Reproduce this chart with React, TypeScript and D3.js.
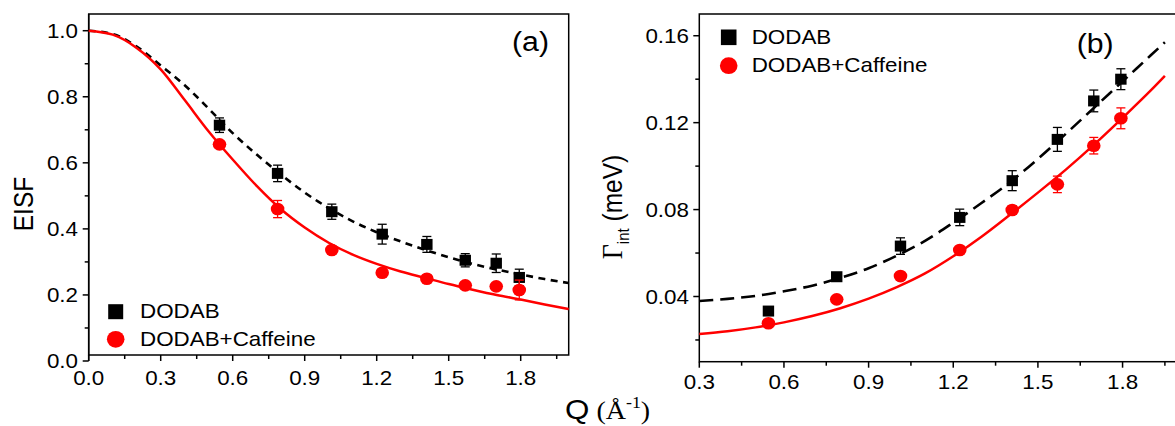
import React from 'react';
import * as d3 from 'd3';

// ---------- data ----------
const qPoints = [0.545, 0.787, 1.013, 1.223, 1.409, 1.569, 1.698, 1.794];

const eisfDodab = [0.714, 0.568, 0.452, 0.384, 0.353, 0.305, 0.296, 0.253];
const eisfDodabErr = [0.022, 0.025, 0.023, 0.03, 0.024, 0.02, 0.028, 0.025];
const eisfCaff = [0.656, 0.46, 0.336, 0.267, 0.249, 0.229, 0.226, 0.215];
const eisfCaffErr = [0.008, 0.026, 0.008, 0.008, 0.008, 0.008, 0.008, 0.03];

const gamDodab = [0.0333, 0.0491, 0.0632, 0.0764, 0.0933, 0.1123, 0.13, 0.14];
const gamDodabErr = [0.001, 0.001, 0.0038, 0.0038, 0.0046, 0.0055, 0.005, 0.0048];
const gamCaff = [0.0277, 0.0387, 0.0494, 0.0614, 0.0798, 0.0916, 0.1094, 0.122];
const gamCaffErr = [0.001, 0.001, 0.0015, 0.0015, 0.002, 0.0038, 0.0038, 0.0048];

// fit curves
const fitQLeft = [0, 0.1, 0.2, 0.3, 0.4, 0.5, 0.6, 0.7, 0.8, 0.9, 1.0, 1.1, 1.2, 1.3, 1.4, 1.5, 1.6, 1.7, 1.8, 1.9, 2.0];
const eisfFitDodab = [1.0, 0.99, 0.952, 0.895, 0.835, 0.764, 0.69, 0.625, 0.565, 0.51, 0.463, 0.423, 0.39, 0.362, 0.337, 0.314, 0.294, 0.277, 0.262, 0.248, 0.236];
const eisfFitCaff = [1.0, 0.988, 0.948, 0.883, 0.79, 0.695, 0.61, 0.53, 0.46, 0.404, 0.358, 0.322, 0.294, 0.271, 0.252, 0.233, 0.216, 0.2, 0.186, 0.171, 0.157];

const fitQRight = [0.3, 0.4, 0.5, 0.6, 0.7, 0.8, 0.9, 1.0, 1.1, 1.2, 1.3, 1.4, 1.5, 1.6, 1.7, 1.8, 1.9, 1.95];
const gamFitDodab = [0.0379, 0.0389, 0.0403, 0.0424, 0.045, 0.0486, 0.053, 0.0588, 0.0656, 0.074, 0.083, 0.0925, 0.1033, 0.115, 0.127, 0.139, 0.151, 0.157];
const gamFitCaff = [0.0227, 0.024, 0.0258, 0.0281, 0.031, 0.0346, 0.039, 0.0443, 0.0506, 0.0585, 0.0675, 0.0775, 0.0878, 0.0985, 0.11, 0.1222, 0.1348, 0.1415];

const xTicksLeft = [0, 0.3, 0.6, 0.9, 1.2, 1.5, 1.8];
const xMinorLeft = [0.15, 0.45, 0.75, 1.05, 1.35, 1.65, 1.95];
const yTicksLeft = [0, 0.2, 0.4, 0.6, 0.8, 1.0];
const yMinorLeft = [0.1, 0.3, 0.5, 0.7, 0.9];
const xTicksRight = [0.3, 0.6, 0.9, 1.2, 1.5, 1.8];
const xMinorRight = [0.45, 0.75, 1.05, 1.35, 1.65, 1.95];
const yTicksRight = [0.04, 0.08, 0.12, 0.16];
const yMinorRight = [0.02, 0.06, 0.1, 0.14];

const legendLabels = ['DODAB', 'DODAB+Caffeine'];

// ---------- layout ----------
const W = 1175;
const H = 426;
const SX = 1.12;
const SANS = "'Liberation Sans', Arial, sans-serif";
const SERIF = "'Liberation Serif', 'Times New Roman', serif";
const RED = '#ff0000';

const xL = d3.scaleLinear().domain([0, 2]).range([88.7, 568.7]);
const yL = d3.scaleLinear().domain([0, 1.05]).range([361, 14.2]);
const xR = d3.scaleLinear().domain([0.3, 2.0]).range([699.3, 1179]);
const yR = d3.scaleLinear().domain([0.01, 0.17]).range([361.7, 14]);

function Txt(props: any) {
  const { x, y, size = 20, anchor = 'start', family = SANS, rotate = false, children, dy } = props;
  return (
    <text
      transform={`translate(${x},${y}) scale(${SX},1)${rotate ? ' rotate(-90)' : ''}`}
      fontSize={size}
      fontFamily={family}
      textAnchor={anchor}
      dy={dy}
      fill="#000"
    >
      {children}
    </text>
  );
}

function Points(props: any) {
  const { xs, ys, errs, xs_, ys_, shape, color } = props;
  return (
    <g>
      {xs.map((q: number, i: number) => {
        const cx = xs_(q);
        const cy = ys_(ys[i]);
        const t = ys_(ys[i] + errs[i]);
        const b = ys_(ys[i] - errs[i]);
        return (
          <g key={i}>
            <line x1={cx} x2={cx} y1={t} y2={b} stroke={color} strokeWidth={1.3} />
            <line x1={cx - 4.5} x2={cx + 4.5} y1={t} y2={t} stroke={color} strokeWidth={1.3} />
            <line x1={cx - 4.5} x2={cx + 4.5} y1={b} y2={b} stroke={color} strokeWidth={1.3} />
            {shape === 'square' ? (
              <rect x={cx - 5.7} y={cy - 5.5} width={11.4} height={11} fill={color} />
            ) : (
              <ellipse cx={cx} cy={cy} rx={6.8} ry={6.3} fill={color} />
            )}
          </g>
        );
      })}
    </g>
  );
}

export default function App() {
  const lineL = (ys: number[]) =>
    d3.line<number>().x((q) => xL(q)).y((_, i) => yL(ys[i])).curve(d3.curveMonotoneX)(fitQLeft) || '';
  const lineR = (ys: number[]) =>
    d3.line<number>().x((q) => xR(q)).y((_, i) => yR(ys[i])).curve(d3.curveMonotoneX)(fitQRight) || '';

  const fmt1 = d3.format('.1f');
  const fmt2 = d3.format('.2f');

  return (
    <svg width={W} height={H} style={{ position: 'absolute', left: 0, top: 0, background: '#fff' }}>
      <rect x={0} y={0} width={W} height={H} fill="#fff" />

      {/* ---------------- panel (a) ---------------- */}
      <g>
        <rect x={xL(0)} y={14} width={xL(2) - xL(0)} height={355 - 14} fill="none" stroke="#000" strokeWidth={1.5} />
        <line x1={xL(0)} x2={xL(0)} y1={14} y2={yL(0)} stroke="#000" strokeWidth={1.5} />
        {xTicksLeft.map((v) => (
          <g key={'xl' + v}>
            <line x1={xL(v)} x2={xL(v)} y1={355} y2={361} stroke="#000" strokeWidth={1.5} />
            <Txt x={xL(v)} y={385} anchor="middle">{fmt1(v)}</Txt>
          </g>
        ))}
        {xMinorLeft.map((v) => (
          <line key={'xlm' + v} x1={xL(v)} x2={xL(v)} y1={355} y2={359} stroke="#000" strokeWidth={1.5} />
        ))}
        {yTicksLeft.map((v) => (
          <g key={'yl' + v}>
            <line x1={xL(0) - 6} x2={xL(0)} y1={yL(v)} y2={yL(v)} stroke="#000" strokeWidth={1.5} />
            <Txt x={78} y={yL(v)} anchor="end" dy="0.36em">{fmt1(v)}</Txt>
          </g>
        ))}
        {yMinorLeft.map((v) => (
          <line key={'ylm' + v} x1={xL(0) - 4} x2={xL(0)} y1={yL(v)} y2={yL(v)} stroke="#000" strokeWidth={1.5} />
        ))}

        <path d={lineL(eisfFitDodab)} fill="none" stroke="#000" strokeWidth={2.6} strokeDasharray="7,5.5" />
        <path d={lineL(eisfFitCaff)} fill="none" stroke={RED} strokeWidth={2.5} />

        <Points xs={qPoints} ys={eisfDodab} errs={eisfDodabErr} xs_={xL} ys_={yL} shape="square" color="#000" />
        <Points xs={qPoints} ys={eisfCaff} errs={eisfCaffErr} xs_={xL} ys_={yL} shape="circle" color={RED} />

        {/* legend */}
        <rect x={115.7 - 7.5} y={311.7 - 7.5} width={15} height={15} fill="#000" />
        <ellipse cx={115.7} cy={339.3} rx={8.8} ry={8.4} fill={RED} />
        <Txt x={140} y={318.3}>{legendLabels[0]}</Txt>
        <Txt x={140} y={345.7}>{legendLabels[1]}</Txt>

        <Txt x={512} y={51} size={27}>(a)</Txt>
        <Txt x={33} y={204} size={24.5} anchor="middle" rotate>EISF</Txt>
      </g>

      {/* ---------------- panel (b) ---------------- */}
      <g>
        <rect x={xR(0.3)} y={14} width={xR(2.0) - xR(0.3)} height={yR(0.01) - 14} fill="none" stroke="#000" strokeWidth={1.5} />
        {xTicksRight.map((v) => (
          <g key={'xr' + v}>
            <line x1={xR(v)} x2={xR(v)} y1={yR(0.01)} y2={yR(0.01) + 6} stroke="#000" strokeWidth={1.5} />
            <Txt x={xR(v)} y={389} anchor="middle">{fmt1(v)}</Txt>
          </g>
        ))}
        {xMinorRight.map((v) => (
          <line key={'xrm' + v} x1={xR(v)} x2={xR(v)} y1={yR(0.01)} y2={yR(0.01) + 4} stroke="#000" strokeWidth={1.5} />
        ))}
        {yTicksRight.map((v) => (
          <g key={'yr' + v}>
            <line x1={xR(0.3) - 6} x2={xR(0.3)} y1={yR(v)} y2={yR(v)} stroke="#000" strokeWidth={1.5} />
            <Txt x={689} y={yR(v)} anchor="end" dy="0.36em">{fmt2(v)}</Txt>
          </g>
        ))}
        {yMinorRight.map((v) => (
          <line key={'yrm' + v} x1={xR(0.3) - 4} x2={xR(0.3)} y1={yR(v)} y2={yR(v)} stroke="#000" strokeWidth={1.5} />
        ))}

        <path d={lineR(gamFitDodab)} fill="none" stroke="#000" strokeWidth={2.6} strokeDasharray="14,7" />
        <path d={lineR(gamFitCaff)} fill="none" stroke={RED} strokeWidth={2.5} />

        <Points xs={qPoints} ys={gamDodab} errs={gamDodabErr} xs_={xR} ys_={yR} shape="square" color="#000" />
        <Points xs={qPoints} ys={gamCaff} errs={gamCaffErr} xs_={xR} ys_={yR} shape="circle" color={RED} />

        <rect x={728.7 - 7.8} y={37.3 - 7.8} width={15.6} height={15.6} fill="#000" />
        <ellipse cx={728.7} cy={65.7} rx={8.8} ry={8.4} fill={RED} />
        <Txt x={751.7} y={44.3}>{legendLabels[0]}</Txt>
        <Txt x={751.7} y={71.7}>{legendLabels[1]}</Txt>

        <Txt x={1076.7} y={52.5} size={27}>(b)</Txt>

        <text transform={`translate(622,207) scale(${SX},1) rotate(-90)`} textAnchor="middle" fill="#000">
          <tspan fontFamily={SERIF} fontSize={26}>Γ</tspan>
          <tspan fontFamily={SANS} fontSize={15} dy={6}>int</tspan>
          <tspan fontFamily={SANS} fontSize={24.5} dy={-6}> (meV)</tspan>
        </text>
      </g>

      {/* shared x label */}
      <text transform={`translate(565,419) scale(${SX},1)`} fill="#000">
        <tspan fontFamily={SANS} fontSize={28}>Q</tspan>
        <tspan fontFamily={SERIF} fontSize={25}> (Å</tspan>
        <tspan fontFamily={SERIF} fontSize={16} dy={-11}>-1</tspan>
        <tspan fontFamily={SERIF} fontSize={25} dy={11}>)</tspan>
      </text>
    </svg>
  );
}
